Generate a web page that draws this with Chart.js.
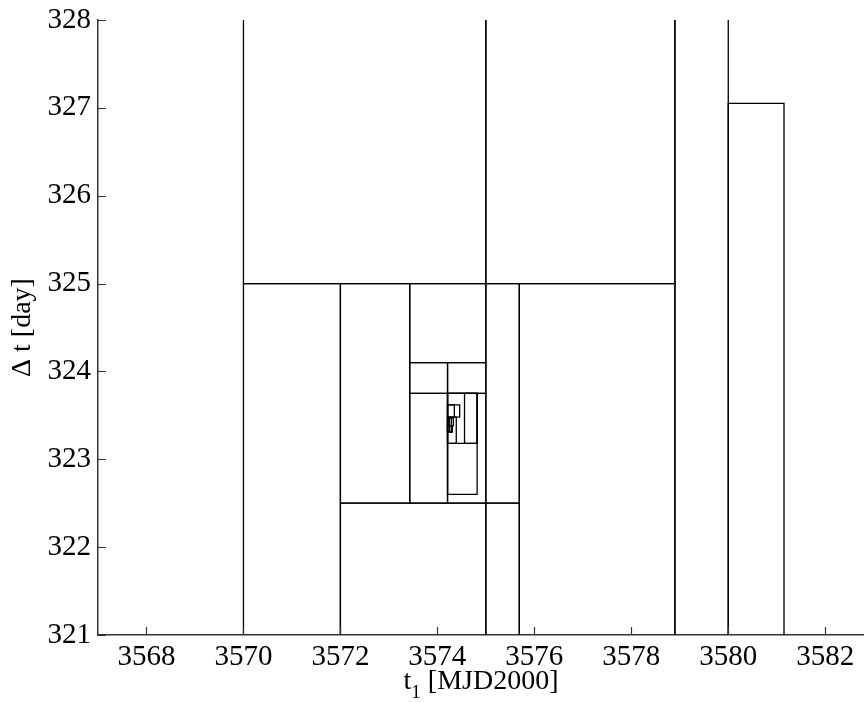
<!DOCTYPE html>
<html>
<head>
<meta charset="utf-8">
<script src="https://cdn.jsdelivr.net/npm/chart.js@4/dist/chart.umd.min.js"></script>
<style>
  html, body { margin: 0; padding: 0; background: #fff; }
  #wrap { width: 864px; height: 702px; position: relative; }
</style>
</head>
<body>
<div id="wrap"><canvas id="boxes"></canvas></div>
<script>
// sampled boxes: left / right edge in t1, bottom / top edge in delta t
const boxLeft   = [3570, 3575, 3570, 3572, 3573.43, 3575, 3572, 3575, 3575.69,
                   3573.43, 3574.21, 3573.43, 3574.21, 3574.21, 3574.21, 3574.56,
                   3574.21, 3574.21, 3574.21, 3574.21, 3574.21, 3574.24, 3574.25,
                   3578.9, 3580];
const boxRight  = [3575, 3578.9, 3572, 3573.43, 3575, 3575.69, 3575, 3575.69, 3578.9,
                   3574.21, 3575, 3574.21, 3575, 3574.82, 3574.82, 3574.82,
                   3574.46, 3574.35, 3574.39, 3574.25, 3574.29, 3574.33, 3574.31,
                   3580, 3581.15];
const boxBottom = [325, 325, 320, 322.5, 324.10, 322.5, 320, 320, 320,
                   323.75, 323.75, 322.5, 322.5, 322.60, 323.18, 323.18,
                   323.48, 323.48, 323.18, 323.31, 323.31, 323.38, 323.31,
                   320, 320];
const boxTop    = [329, 329, 325, 325, 325, 325, 322.5, 322.5, 325,
                   324.10, 324.10, 323.75, 323.75, 323.75, 323.75, 323.75,
                   323.62, 323.62, 323.48, 323.47, 323.47, 323.47, 323.38,
                   329, 327.05];

const xTickValues = [3568, 3570, 3572, 3574, 3576, 3578, 3580, 3582];
const yTickValues = [321, 322, 323, 324, 325, 326, 327, 328];

const serif = '"Liberation Serif", "DejaVu Serif", serif';

const datasets = boxLeft.map((l, i) => ({
  data: [
    {x: l, y: boxBottom[i]},
    {x: boxRight[i], y: boxBottom[i]},
    {x: boxRight[i], y: boxTop[i]},
    {x: l, y: boxTop[i]},
    {x: l, y: boxBottom[i]}
  ],
  showLine: true,
  borderColor: '#000',
  borderWidth: 1.3,
  pointRadius: 0,
  tension: 0
}));

// ticks point into the plot, and the x title carries a subscript
const axisDecor = {
  id: 'axisDecor',
  afterDraw(chart) {
    const {ctx, chartArea, scales} = chart;
    ctx.save();
    ctx.strokeStyle = '#333';
    ctx.lineWidth = 1.2;
    ctx.beginPath();
    xTickValues.forEach(v => {
      const px = Math.round(scales.x.getPixelForValue(v)) + 0.5;
      ctx.moveTo(px, chartArea.bottom);
      ctx.lineTo(px, chartArea.bottom - 8);
    });
    yTickValues.forEach(v => {
      const py = Math.round(scales.y.getPixelForValue(v)) + 0.5;
      ctx.moveTo(chartArea.left, py);
      ctx.lineTo(chartArea.left + 8, py);
    });
    ctx.stroke();

    const main = '28px ' + serif;
    const sub = '19px ' + serif;
    ctx.fillStyle = '#000';
    ctx.textBaseline = 'alphabetic';
    ctx.font = main;
    const wT = ctx.measureText('t').width;
    const wRest = ctx.measureText(' [MJD2000]').width;
    ctx.font = sub;
    const wSub = ctx.measureText('1').width;
    const total = wT + wSub + wRest;
    let x = (chartArea.left + chartArea.right) / 2 - total / 2;
    const base = 689;
    ctx.font = main;
    ctx.fillText('t', x, base);
    x += wT;
    ctx.font = sub;
    ctx.fillText('1', x, base + 9);
    x += wSub;
    ctx.font = main;
    ctx.fillText(' [MJD2000]', x, base);
    ctx.restore();
  }
};

new Chart(document.getElementById('boxes'), {
  type: 'scatter',
  data: { datasets },
  options: {
    responsive: true,
    maintainAspectRatio: false,
    animation: false,
    layout: { padding: { top: 20, right: 0, left: 0, bottom: 0 } },
    plugins: { legend: { display: false }, tooltip: { enabled: false } },
    scales: {
      x: {
        type: 'linear',
        min: 3567,
        max: 3582.8,
        afterBuildTicks: s => { s.ticks = xTickValues.map(v => ({value: v})); },
        afterFit: s => { s.height = 67; s.paddingLeft = 0; s.paddingRight = 0; },
        grid: { drawOnChartArea: false, drawTicks: false },
        border: { display: true, color: '#333', width: 1.5 },
        ticks: { color: '#000', padding: 5, maxRotation: 0, autoSkip: false,
                 font: { family: serif, size: 29 }, callback: v => String(v) }
      },
      y: {
        type: 'linear',
        min: 321,
        max: 328,
        afterBuildTicks: s => { s.ticks = yTickValues.map(v => ({value: v})); },
        afterFit: s => { s.width = 98; s.paddingTop = 0; s.paddingBottom = 0; },
        grid: { drawOnChartArea: false, drawTicks: false },
        border: { display: true, color: '#333', width: 1.5 },
        title: { display: true, text: 'Δ t [day]', color: '#000',
                 font: { family: serif, size: 28 }, padding: { top: 6, bottom: 0 } },
        ticks: { color: '#000', padding: 7, autoSkip: false,
                 font: { family: serif, size: 29 }, callback: v => String(v) }
      }
    }
  },
  plugins: [axisDecor]
});
</script>
</body>
</html>
